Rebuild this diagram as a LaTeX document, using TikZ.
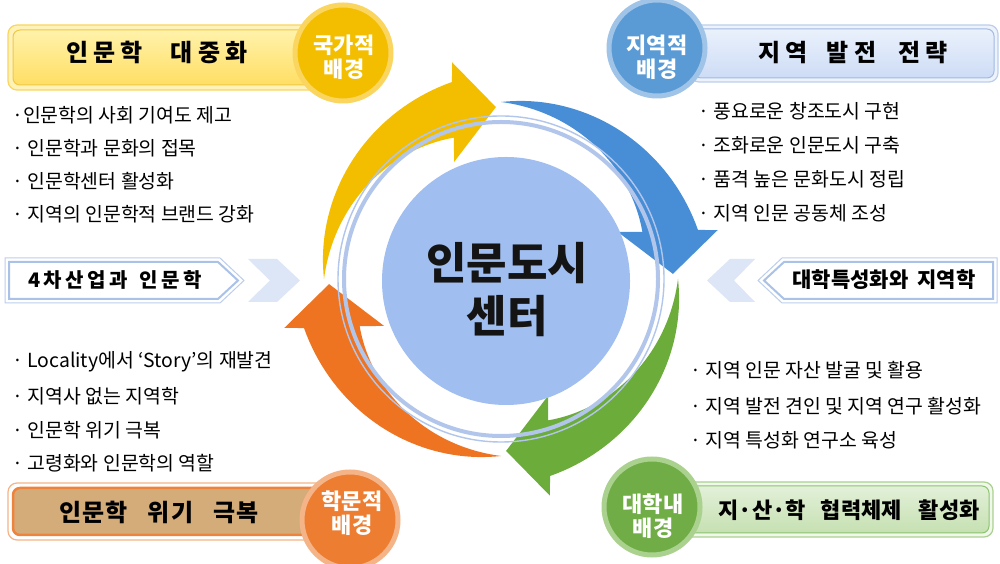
\documentclass[tikz,border=0pt]{standalone}
\usepackage{fontspec}
\setmainfont{Noto Sans CJK KR}
\definecolor{yel}{RGB}{243,190,0}
\definecolor{yelrim}{RGB}{250,214,96}
\definecolor{blu}{RGB}{72,142,214}
\definecolor{bluc}{RGB}{91,155,213}
\definecolor{blurim}{RGB}{160,196,232}
\definecolor{grn}{RGB}{108,172,58}
\definecolor{grnc}{RGB}{112,173,71}
\definecolor{grnrim}{RGB}{170,210,142}
\definecolor{org}{RGB}{238,116,33}
\definecolor{orgc}{RGB}{237,125,49}
\definecolor{orgrim}{RGB}{245,180,135}
\definecolor{cen}{RGB}{160,190,240}
\definecolor{ringc}{RGB}{178,198,236}
\definecolor{pale}{RGB}{188,206,236}
\definecolor{chev}{RGB}{220,230,246}
\definecolor{tan}{RGB}{212,172,122}
\newcommand\sps[1]{\spaceskip=#1pt plus 0pt minus 0pt\relax}
\tikzset{
  bul/.style={font=\fontsize{19.4}{21}\selectfont, anchor=west, inner sep=0pt},
  ttl/.style={font=\bfseries\fontsize{24}{28}\selectfont, inner sep=0pt},
  ttls/.style={font=\bfseries\fontsize{22}{26}\selectfont, inner sep=0pt},
  mid/.style={font=\bfseries\fontsize{20}{24}\selectfont, inner sep=0pt},
  ctag/.style={font=\bfseries\fontsize{22}{24}\selectfont, text=white, align=center, inner sep=0pt},
  ctr/.style={font=\bfseries\fontsize{44}{53}\selectfont, align=center, inner sep=0pt},
}
\newcommand\swoosh[2]{%
  \fill[#2,shift={(501,285)},rotate=#1]
    plot[domain=180:104,samples=40] (\x:{177+(180-\x)*26/76})
    -- (102.7:222) -- (91.7:172) -- (111.9:126) -- (108.4:149)
    -- plot[domain=108.4:180,samples=40] (\x:{177-(180-\x)*28/71.6}) -- cycle;}
\begin{document}
\begin{tikzpicture}[x=1pt,y=1pt]
\useasboundingbox (0,0) rectangle (1000,564);
\fill[white] (0,0) rectangle (1000,564);

% ---- corner boxes ----
% top-left
\draw[rounded corners=9, draw=yelrim, fill={rgb,255:red,255;green,242;blue,185}, line width=1.2] (8,474) rectangle (330,539);
\shade[rounded corners=7, top color={rgb,255:red,255;green,242;blue,170}, bottom color={rgb,255:red,255;green,222;blue,100}] (13,479) rectangle (325,534);
\draw[rounded corners=7, draw={rgb,255:red,240;green,200;blue,70}, line width=1] (13,479) rectangle (325,534);
% top-right
\draw[rounded corners=9, draw=pale, fill={rgb,255:red,238;green,243;blue,251}, line width=1.2] (690,482) rectangle (998,539);
\shade[rounded corners=7, top color={rgb,255:red,234;green,241;blue,252}, bottom color={rgb,255:red,205;green,220;blue,245}] (694,486) rectangle (994,535);
\draw[rounded corners=7, draw={rgb,255:red,160;green,185;blue,226}, line width=1] (694,486) rectangle (994,535);
% bottom-left
\draw[rounded corners=9, draw=orgrim, fill=white, line width=1.2] (8,24) rectangle (330,81);
\draw[rounded corners=7, draw={rgb,255:red,238;green,132;blue,60}, fill=tan, line width=2.5] (13,29) rectangle (325,76);
% bottom-right
\draw[rounded corners=9, draw=grnrim, fill={rgb,255:red,240;green,247;blue,235}, line width=1.2] (640,27) rectangle (993,82);
\shade[rounded corners=7, top color={rgb,255:red,226;green,240;blue,216}, bottom color={rgb,255:red,198;green,224;blue,178}] (644,31) rectangle (989,78);
\draw[rounded corners=7, draw={rgb,255:red,140;green,195;blue,110}, line width=1] (644,31) rectangle (989,78);

% ---- middle pentagons and chevrons ----
\draw[draw=pale, line width=1] (5,306) -- (220,306) -- (244,283.5) -- (220,261) -- (5,261) -- cycle;
\draw[draw={rgb,255:red,170;green,194;blue,232}, fill=white, line width=2] (9,302) -- (218,302) -- (238,283.5) -- (218,265) -- (9,265) -- cycle;
\fill[chev] (248,305) -- (277,305) -- (300,283.5) -- (277,262) -- (248,262) -- (270,283.5) -- cycle;
\draw[draw=pale, line width=1] (997,306) -- (782,306) -- (758,283.5) -- (782,261) -- (997,261) -- cycle;
\draw[draw={rgb,255:red,170;green,194;blue,232}, fill=white, line width=2] (993,302) -- (784,302) -- (764,283.5) -- (784,265) -- (993,265) -- cycle;
\fill[chev] (755,305) -- (730,305) -- (707,283.5) -- (730,262) -- (755,262) -- (734,283.5) -- cycle;

% ---- circular arrows ----
\swoosh{0}{yel}
\swoosh{-90}{blu}
\swoosh{-180}{grn}
\swoosh{90}{org}

% ---- ring and centre ----
\draw[ringc, line width=4] (501,285) circle (157);
\draw[ringc, line width=1.4] (501,285) circle (163);
\fill[cen] (506,283) circle (124);
\node[ctr, text={rgb,255:red,20;green,20;blue,20}] (center) at (507,274) {인문도시\\센터};

% ---- corner circles ----
\filldraw[fill=yel, draw=yelrim, line width=5] (343,511) circle (48);
\node[ctag] (tagTL) at (344,506.5) {국가적\\배경};
\filldraw[fill=bluc, draw=blurim, line width=5] (657,516) circle (48);
\node[ctag] (tagTR) at (657,506.5) {지역적\\배경};
\filldraw[fill=orgc, draw=orgrim, line width=5] (350,44) circle (48);
\node[ctag] (tagBL) at (352,51) {학문적\\배경};
\filldraw[fill=grnc, draw=grnrim, line width=5] (652,57) circle (48);
\node[ctag] (tagBR) at (653,48) {대학내\\배경};

% ---- titles ----
\node[ttl] (tTL) at (157,512) {\sps{5}인 문 학\hspace{28pt}대 중 화};
\node[ttl] (tTR) at (853,511) {\sps{5}지 역\hspace{19pt}발 전\hspace{22pt}전 략};
\node[ttl] (tBL) at (159,52) {\sps{1}인 문 학\hspace{20pt}위 기\hspace{20pt}극 복};
\node[ttls] (tBR) at (849,54) {지·산·학\hspace{15pt}협력체제\hspace{17pt}활성화};
\node[mid] (tML) at (115,284) {\sps{3.5}4 차 산 업 과\hspace{12pt}인 문 학};
\node[mid, font=\bfseries\fontsize{21}{24}\selectfont] (tMR) at (884,284) {대학특성화와\hspace{9pt}지역학};

% ---- bullets ----
\node[bul] (b1) at (12,449) {·인문학의 사회 기여도 제고};
\node[bul] (b2) at (12,416) {· 인문학과 문화의 접목};
\node[bul] (b3) at (12,383) {· 인문학센터 활성화};
\node[bul] (b4) at (12,350) {· 지역의 인문학적 브랜드 강화};

\node[bul] (r1) at (698,453) {· 풍요로운 창조도시 구현};
\node[bul] (r2) at (698,419) {· 조화로운 인문도시 구축};
\node[bul] (r3) at (698,385) {· 품격 높은 문화도시 정립};
\node[bul] (r4) at (698,351) {· 지역 인문 공동체 조성};

\node[bul] (l1) at (12,202) {· Locality에서 ‘Story’의 재발견};
\node[bul] (l2) at (12,168) {· 지역사 없는 지역학};
\node[bul] (l3) at (12,134) {· 인문학 위기 극복};
\node[bul] (l4) at (12,101) {· 고령화와 인문학의 역할};

\node[bul] (g1) at (690,194) {· 지역 인문 자산 발굴 및 활용};
\node[bul] (g2) at (690,158) {· 지역 발전 견인 및 지역 연구 활성화};
\node[bul] (g3) at (690,124) {· 지역 특성화 연구소 육성};
\end{tikzpicture}
\end{document}
